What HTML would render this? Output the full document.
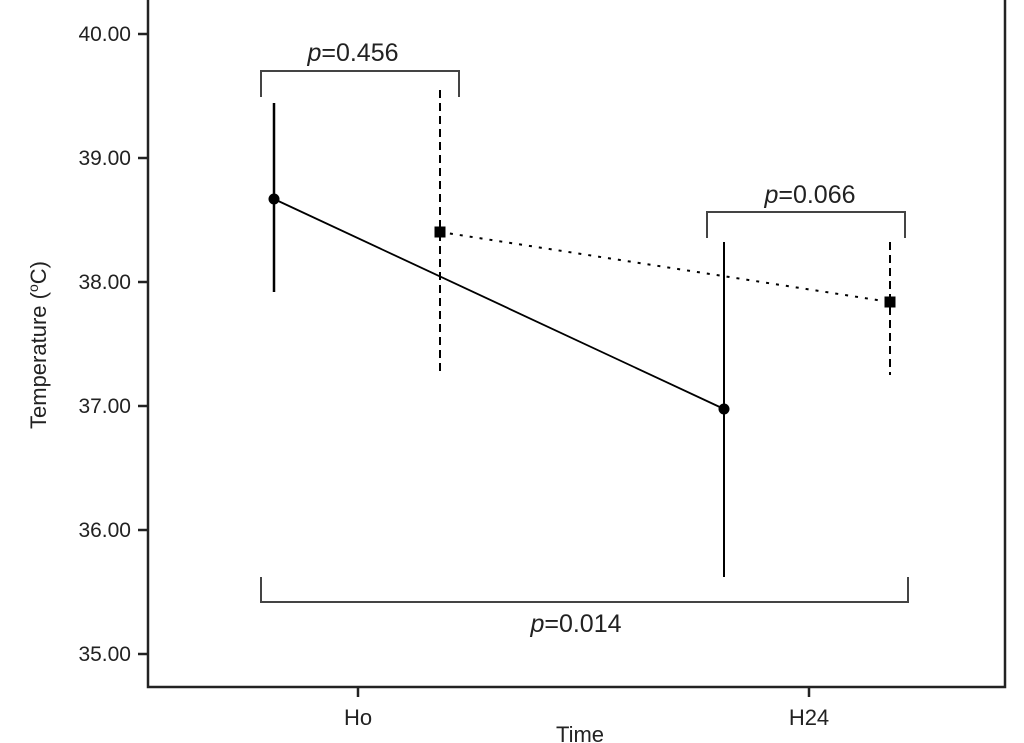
<!DOCTYPE html>
<html><head><style>body{margin:0;background:#fff}svg{display:block}text{font-family:"Liberation Sans",sans-serif;fill:#222}</style></head>
<body>
<svg width="1024" height="743" viewBox="0 0 1024 743">
<rect x="148" y="-2" width="857" height="689" fill="none" stroke="#222" stroke-width="2.5"/>
<g stroke="#222" stroke-width="2.5">
<line x1="138" y1="34" x2="148" y2="34"/><line x1="138" y1="158" x2="148" y2="158"/><line x1="138" y1="282" x2="148" y2="282"/><line x1="138" y1="406" x2="148" y2="406"/><line x1="138" y1="530" x2="148" y2="530"/><line x1="138" y1="654" x2="148" y2="654"/>
<line x1="358" y1="687" x2="358" y2="697"/><line x1="809" y1="687" x2="809" y2="697"/>
</g>
<g style="font-size:21px" text-anchor="end">
<text x="131" y="41">40.00</text><text x="131" y="165">39.00</text><text x="131" y="289">38.00</text><text x="131" y="413">37.00</text><text x="131" y="537">36.00</text><text x="131" y="661">35.00</text>
</g>
<g style="font-size:22px" text-anchor="middle">
<text x="358" y="725">Ho</text><text x="809" y="725">H24</text><text x="580" y="742">Time</text>
<text transform="translate(46,345) rotate(-90)">Temperature (<tspan style="font-size:14px" dy="-8">o</tspan><tspan dy="8">C)</tspan></text>
</g>
<g fill="none" stroke="#444" stroke-width="2">
<polyline points="261,97 261,71 459,71 459,97"/>
<polyline points="707,238 707,212 905,212 905,238"/>
<polyline points="261,577 261,602 908,602 908,577"/>
</g>
<g style="font-size:25px" text-anchor="middle">
<text x="353" y="61"><tspan font-style="italic">p</tspan>=0.456</text>
<text x="810" y="203"><tspan font-style="italic">p</tspan>=0.066</text>
<text x="576" y="632"><tspan font-style="italic">p</tspan>=0.014</text>
</g>
<g stroke="#000">
<line x1="274" y1="199" x2="724" y2="409" stroke-width="1.8"/>
<line x1="440" y1="232" x2="890" y2="302" stroke-width="2" stroke-dasharray="3,7"/>
<line x1="274" y1="103" x2="274" y2="292" stroke-width="2.5"/>
<line x1="724" y1="242" x2="724" y2="577" stroke-width="2"/>
<line x1="440" y1="90" x2="440" y2="375" stroke-width="2" stroke-dasharray="8,5"/>
<line x1="890" y1="242" x2="890" y2="375" stroke-width="2" stroke-dasharray="8,5"/>
</g>
<circle cx="274" cy="199" r="5.5"/><circle cx="724" cy="409" r="5.5"/>
<rect x="434.5" y="226.5" width="11" height="11"/><rect x="884.5" y="296.5" width="11" height="11"/>
</svg>
</body></html>
